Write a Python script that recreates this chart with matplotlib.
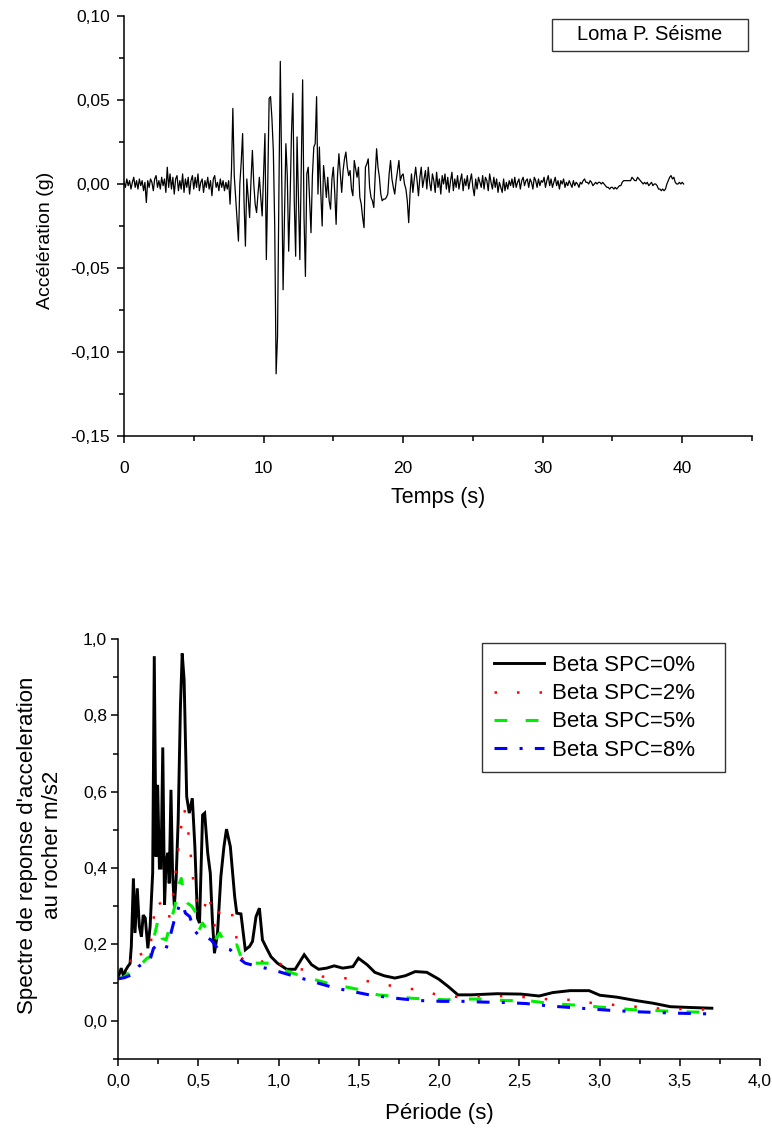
import numpy as np
import matplotlib
matplotlib.use("Agg")
import matplotlib.pyplot as plt
from matplotlib.ticker import FixedLocator, MultipleLocator, FuncFormatter
from matplotlib.patches import Rectangle

plt.rcParams['font.family'] = ['Liberation Sans', 'DejaVu Sans']

# ---------------- Data: accelerogram (mg, sampled every 0.1 s) ----------------
dt = 0.1
acc_mg = [
    1, -2, 3, -1, 2, -3, 1, 4, -2, 2,
    -3, 3, -1, 2, -4, 1, -11, 2, -2, 3,
    1, -4, 3, 5, -2, 2, -3, 4, -1, 3,
    -5, 10, -2, 6, -3, 4, -6, 3, 5, -4,
    2, -3, 6, -5, 3, -2, 4, -6, 2, 5,
    -3, 4, -2, 6, -4, 1, 3, -5, 2, -2,
    4, -3, 2, -7, 3, 5, -2, 1, -4, 3,
    -2, 2, -4, 1, -3, 2, -12, 8, 45, 5,
    -8, -20, -34, 0, 13, 30, -10, -37, 3, -8,
    -20, 2, 20, 0, -12, -17, -6, 4, -8, -19,
    5, 30, -45, 0, 51, 52, 39, 20, -25, -113,
    -91, -5, 73, 5, -63, -20, 24, 5, -40, -10,
    30, 54, -10, -43, 28, -10, -45, 10, 62, -20,
    -55, 6, 10, -10, -29, 5, 22, 24, 52, -6,
    22, -5, -25, 11, 2, -8, 4, -10, -15, 3,
    10, -5, -24, 5, 18, 6, -5, 8, 15, 19,
    10, 5, 8, -3, -7, 14, 9, 4, 10, -8,
    -12, -20, -26, 10, 12, 15, -2, -8, -10, -14,
    5, 21, 10, 4, -6, -10, -9, -9, -8, -6,
    6, 14, 3, -2, -6, 2, 8, 14, 2, 5,
    6, 0, -3, -10, -23, -5, 6, -5, 3, 10,
    2, -7, 4, 10, -2, 3, 8, -3, 10, 1,
    -4, 6, 2, -5, 7, -2, 3, -6, 5, 0,
    6, -3, 4, -5, 2, 7, -4, 3, -2, 5,
    -3, 2, 6, -4, 3, -1, 5, -3, 2, 6,
    -2, -7, 3, -3, 4, 1, -2, 5, -3, 4,
    2, -4, 6, 1, -3, 4, -2, 3, -5, 1,
    -2, -5, 3, -4, 1, -3, 2, -1, 3, -2,
    4, -2, 1, 3, -3, 2, 4, -1, 2, 3,
    -2, 3, 1, -3, 4, 2, -2, 3, -1, 2,
    1, 4, -2, 2, 5, -1, 3, -2, 1, 4,
    -1, 2, -3, 2, 0, 3, -2, 1, -1, 2,
    0, -2, 2, -1, 1, 0, -2, 1, 0, 2,
    3, 1, 1, 0, 2, 1, -1, 0, 1, 0,
    1, 1, 0, 1, 0, -1, -2, -2, -3, -2,
    -2, -3, -2, -3, -2, -1, -1, 1, 2, 2,
    2, 2, 2, 2, 4, 3, 2, 2, 4, 3,
    2, 1, 0, 1, 0, 1, -1, 0, 1, -1,
    0, 0, -1, -3, -3, -4, -3, -4, -3, 0,
    2, 4, 5, 3, 4, 1, 0, 0, 1, 0,
    1, 0,
]

# ---------------- Data: response spectra ----------------
T0 = [0.0, 0.02, 0.035, 0.048, 0.061, 0.075, 0.083, 0.096, 0.106, 0.12, 0.133, 0.146, 0.157, 0.17,
      0.186, 0.20, 0.216, 0.226, 0.237, 0.247, 0.258, 0.268, 0.279, 0.29, 0.30, 0.311, 0.319, 0.33,
      0.34, 0.351, 0.362, 0.375, 0.389, 0.40, 0.412, 0.428, 0.444, 0.463, 0.479, 0.495, 0.508, 0.527,
      0.54, 0.559, 0.575, 0.588, 0.601, 0.62, 0.641, 0.66, 0.676, 0.70, 0.727, 0.74, 0.766, 0.793,
      0.82, 0.838, 0.86, 0.881, 0.90, 0.926, 0.953, 0.993, 1.051, 1.104, 1.16, 1.206, 1.25, 1.30,
      1.347, 1.40, 1.464, 1.498, 1.552, 1.60, 1.658, 1.725, 1.79, 1.852, 1.924, 1.999, 2.057, 2.118,
      2.20, 2.363, 2.51, 2.624, 2.709, 2.816, 2.935, 3.002, 3.108, 3.228, 3.335, 3.441, 3.56, 3.70]
S0 = [0.112, 0.138, 0.116, 0.133, 0.142, 0.15, 0.195, 0.373, 0.23, 0.347, 0.247, 0.22, 0.277, 0.269,
      0.19, 0.247, 0.387, 0.955, 0.43, 0.618, 0.40, 0.40, 0.716, 0.304, 0.42, 0.44, 0.36, 0.605,
      0.387, 0.30, 0.37, 0.526, 0.823, 0.962, 0.893, 0.587, 0.544, 0.583, 0.456, 0.269, 0.256, 0.539,
      0.544, 0.439, 0.387, 0.264, 0.177, 0.23, 0.378, 0.456, 0.502, 0.456, 0.325, 0.282, 0.28, 0.186,
      0.195, 0.208, 0.273, 0.295, 0.212, 0.19, 0.168, 0.151, 0.135, 0.135, 0.173, 0.147, 0.135, 0.138,
      0.144, 0.138, 0.142, 0.164, 0.147, 0.127, 0.118, 0.112, 0.118, 0.129, 0.127, 0.109, 0.09, 0.068,
      0.068, 0.071, 0.070, 0.065, 0.074, 0.079, 0.079, 0.067, 0.062, 0.053, 0.046, 0.037, 0.035, 0.033]

T2 = [0.0, 0.03, 0.06, 0.096, 0.12, 0.15, 0.18, 0.2, 0.213, 0.229, 0.247, 0.265, 0.282, 0.3, 0.314,
      0.335, 0.354, 0.373, 0.394, 0.412, 0.434, 0.452, 0.468, 0.487, 0.514, 0.54, 0.567, 0.585, 0.607,
      0.633, 0.673, 0.70, 0.727, 0.753, 0.793, 0.846, 0.90, 0.953, 1.046, 1.166, 1.272, 1.405, 1.525,
      1.645, 1.764, 1.884, 1.99, 2.124, 2.23, 2.363, 2.483, 2.60, 2.72, 2.842, 2.962, 3.082, 3.20,
      3.321, 3.455, 3.56, 3.70]
S2 = [0.112, 0.115, 0.125, 0.186, 0.19, 0.17, 0.175, 0.186, 0.238, 0.29, 0.317, 0.305, 0.286, 0.275,
      0.264, 0.30, 0.37, 0.44, 0.509, 0.557, 0.509, 0.44, 0.37, 0.317, 0.282, 0.30, 0.334, 0.282,
      0.238, 0.286, 0.29, 0.30, 0.247, 0.177, 0.151, 0.155, 0.155, 0.168, 0.138, 0.134, 0.116, 0.112,
      0.106, 0.097, 0.086, 0.081, 0.068, 0.062, 0.064, 0.065, 0.064, 0.059, 0.055, 0.055, 0.046,
      0.042, 0.038, 0.033, 0.031, 0.031, 0.029]

T5 = [0.0, 0.04, 0.08, 0.12, 0.141, 0.181, 0.20, 0.221, 0.247, 0.274, 0.30, 0.327, 0.354, 0.375,
      0.394, 0.415, 0.434, 0.46, 0.487, 0.506, 0.527, 0.554, 0.58, 0.607, 0.633, 0.673, 0.713, 0.74,
      0.766, 0.806, 0.873, 0.94, 1.006, 1.086, 1.192, 1.30, 1.405, 1.512, 1.618, 1.725, 1.831, 1.937,
      2.044, 2.15, 2.283, 2.416, 2.55, 2.683, 2.816, 2.949, 3.082, 3.215, 3.348, 3.48, 3.70]
S5 = [0.11, 0.115, 0.13, 0.133, 0.147, 0.164, 0.168, 0.212, 0.26, 0.216, 0.212, 0.256, 0.30, 0.352,
      0.373, 0.325, 0.308, 0.30, 0.282, 0.238, 0.256, 0.238, 0.212, 0.212, 0.23, 0.199, 0.195, 0.199,
      0.168, 0.151, 0.151, 0.151, 0.138, 0.125, 0.112, 0.099, 0.09, 0.081, 0.068, 0.064, 0.059, 0.057,
      0.055, 0.057, 0.057, 0.053, 0.053, 0.046, 0.042, 0.038, 0.033, 0.029, 0.027, 0.024, 0.022]

T8 = [0.0, 0.04, 0.07, 0.088, 0.128, 0.168, 0.20, 0.221, 0.247, 0.274, 0.30, 0.327, 0.354, 0.381,
      0.40, 0.42, 0.447, 0.474, 0.50, 0.54, 0.58, 0.62, 0.66, 0.70, 0.74, 0.793, 0.873, 0.953, 1.032,
      1.139, 1.245, 1.352, 1.458, 1.565, 1.671, 1.778, 1.884, 2.017, 2.15, 2.283, 2.416, 2.55, 2.683,
      2.816, 2.949, 3.082, 3.215, 3.348, 3.48, 3.70]
S8 = [0.11, 0.113, 0.118, 0.12, 0.142, 0.155, 0.16, 0.19, 0.199, 0.195, 0.19, 0.225, 0.269, 0.30,
      0.308, 0.282, 0.273, 0.238, 0.225, 0.221, 0.212, 0.19, 0.19, 0.186, 0.168, 0.151, 0.142, 0.135,
      0.125, 0.112, 0.099, 0.086, 0.077, 0.068, 0.062, 0.057, 0.053, 0.051, 0.051, 0.049, 0.048,
      0.045, 0.039, 0.035, 0.031, 0.027, 0.024, 0.022, 0.02, 0.018]

series_labels = ["Beta SPC=0%", "Beta SPC=2%", "Beta SPC=5%", "Beta SPC=8%"]

top_xticks = [0, 10, 20, 30, 40]
top_yticks = [-0.15, -0.10, -0.05, 0.0, 0.05, 0.10]
bot_xticks = [0.0, 0.5, 1.0, 1.5, 2.0, 2.5, 3.0, 3.5, 4.0]
bot_yticks = [0.0, 0.2, 0.4, 0.6, 0.8, 1.0]

# ---------------- Figure ----------------
W, H = 772, 1128
fig = plt.figure(figsize=(W / 100, H / 100), dpi=100)


def fx(px):
    return px / W


def fy(py):
    return 1 - py / H


def comma(fmt):
    return FuncFormatter(lambda v, p: (fmt % v).replace('.', ','))


def style_axes(ax):
    for s in ['top', 'right']:
        ax.spines[s].set_visible(False)
    for s in ['left', 'bottom']:
        ax.spines[s].set_linewidth(1.1)
    ax.tick_params(which='major', direction='out', length=5, width=1.1, labelsize=12.5)
    ax.tick_params(which='minor', direction='out', length=3.5, width=1.1)


# ---- top panel ----
ax1 = fig.add_axes([fx(124), fy(436), fx(752) - fx(124), fy(16) - fy(436)])
t = np.arange(len(acc_mg)) * dt
acc = np.array(acc_mg) / 1000.0
ax1.plot(t, acc, color='black', lw=0.9)
ax1.set_xlim(0, 45)
ax1.set_ylim(-0.15, 0.10)
ax1.xaxis.set_major_locator(FixedLocator(top_xticks))
ax1.xaxis.set_minor_locator(MultipleLocator(5))
ax1.yaxis.set_major_locator(FixedLocator(top_yticks))
ax1.yaxis.set_minor_locator(MultipleLocator(0.025))
ax1.xaxis.set_major_formatter(FuncFormatter(lambda v, p: '%d' % v))
ax1.yaxis.set_major_formatter(comma('%.2f'))
style_axes(ax1)
ax1.tick_params(axis='x', which='major', pad=13)
ax1.tick_params(axis='y', which='major', pad=5)

fig.text(fx(438), fy(497), "Temps (s)", ha='center', va='center', fontsize=15.5)
fig.text(fx(46), fy(240), "Accélération (g)", ha='center', va='center', rotation=90, fontsize=14)

fig.patches.append(Rectangle((fx(552), fy(51)), fx(748) - fx(552), fy(19) - fy(51),
                             transform=fig.transFigure, fill=False, edgecolor='#333333', lw=1.0))
fig.text(fx(650), fy(35), "Loma P. Séisme", ha='center', va='center', fontsize=14.5)

# ---- bottom panel ----
ax2 = fig.add_axes([fx(118), fy(1059), fx(760) - fx(118), fy(639) - fy(1059)])
l0, = ax2.plot(T0, S0, color='black', lw=2.1, solid_joinstyle='miter')
l2, = ax2.plot(T2, S2, color='#ff0000', lw=1.8, linestyle=(0, (1, 8)))
l5, = ax2.plot(T5, S5, color='#00ee00', lw=2.2, linestyle=(0, (4.2, 6.0)))
l8, = ax2.plot(T8, S8, color='#0000ff', lw=2.2, linestyle=(0, (4.2, 4.0, 1.0, 4.0)))
ax2.set_xlim(0, 4.0)
ax2.set_ylim(-0.1, 1.0)
ax2.xaxis.set_major_locator(FixedLocator(bot_xticks))
ax2.xaxis.set_minor_locator(MultipleLocator(0.25))
ax2.yaxis.set_major_locator(FixedLocator(bot_yticks))
ax2.yaxis.set_minor_locator(MultipleLocator(0.1))
ax2.xaxis.set_major_formatter(comma('%.1f'))
ax2.yaxis.set_major_formatter(comma('%.1f'))
style_axes(ax2)
ax2.tick_params(axis='x', which='major', pad=6)
ax2.tick_params(axis='y', which='major', pad=3)

fig.text(fx(439), fy(1113), "Période (s)", ha='center', va='center', fontsize=16)
fig.text(fx(40), fy(845), "Spectre de reponse d'acceleration\nau rocher m/s2", ha='center',
         va='center', rotation=90, fontsize=16, multialignment='center', linespacing=1.25)

# legend: content placed at the reference position, frame drawn separately
leg = ax2.legend([l0, l2, l5, l8], series_labels, loc='upper left',
                 bbox_to_anchor=(fx(482), fy(643)), bbox_transform=fig.transFigure,
                 borderaxespad=0, fontsize=16, frameon=False,
                 handlelength=2.25, handletextpad=0.36, labelspacing=0.32, borderpad=0.55)
fig.patches.append(Rectangle((fx(482), fy(772)), fx(725) - fx(482), fy(643) - fy(772),
                             transform=fig.transFigure, fill=False, edgecolor='#333333', lw=1.0))

fig.savefig("out.png", dpi=100)
